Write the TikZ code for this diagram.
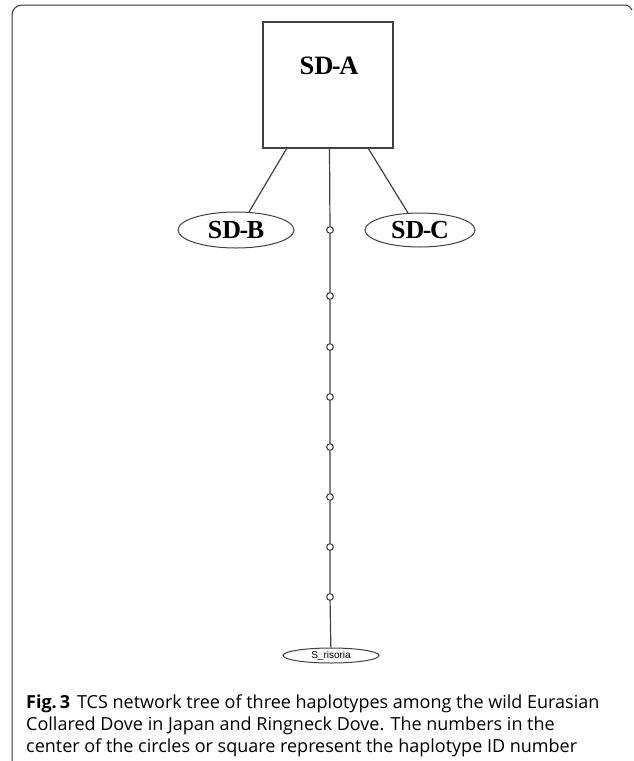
\documentclass[tikz,border=0pt]{standalone}
\usepackage{fontspec}
\setmainfont{Liberation Serif}
\newfontfamily\capfont{Open Sans}
\newfontfamily\smallsans{Liberation Sans}
\usetikzlibrary{shapes.geometric}
\newcommand{\hy}{\kern-1.5pt-\kern-1.5pt}
\begin{document}
\begin{tikzpicture}[x=1pt,y=-1pt,
  edge/.style={draw=black!75, line width=1.2pt},
  hap/.style={draw=black!75, line width=1pt, ellipse, inner sep=0pt, font=\fontsize{26}{26}\selectfont\bfseries},
  mid/.style={circle, draw=black!75, fill=white, line width=0.9pt, minimum size=6.5pt, inner sep=0pt}]
\useasboundingbox (0,0) rectangle (634,761);
% frame
\draw[black!80, line width=1pt] (12,761) -- (12,15) arc[start angle=180, end angle=270, radius=10] -- (626,5) to[out=0,in=120] (632,10);
% nodes
\node[draw=black!75, line width=1.2pt, minimum width=130pt, minimum height=126pt, inner sep=0pt] (A) at (328,85) {};
\node[font=\fontsize{26.5}{26}\selectfont\bfseries] (Alab) at (329,66) {SD\hy A};
\node[hap, minimum width=116pt, minimum height=36pt] (B) at (236,230) {SD\hy B};
\node[hap, minimum width=110pt, minimum height=34pt] (C) at (420,230) {SD\hy C};
\node[hap, minimum width=96pt, minimum height=15pt, font=\fontsize{10}{10}\smallsans] (S) at (331,655.5) {S\_risoria};
\coordinate (a1) at (287,148);
\coordinate (a2) at (329.5,148);
\coordinate (a3) at (368,148);
\coordinate (b1) at (249,212);
\coordinate (c1) at (408,213);
\draw[edge] (a1) -- (b1);
\draw[edge] (a3) -- (c1);
\node[mid] (m1) at (330,230) {};
\node[mid] (m2) at (330,296) {};
\node[mid] (m3) at (330,347) {};
\node[mid] (m4) at (330,397) {};
\node[mid] (m5) at (330,447) {};
\node[mid] (m6) at (330,497) {};
\node[mid] (m7) at (330,547) {};
\node[mid] (m8) at (330,597) {};
\draw[edge] (a2) -- (m1) -- (m2) -- (m3) -- (m4) -- (m5) -- (m6) -- (m7) -- (m8) -- (S);
\foreach \n in {m1,m2,m3,m4,m5,m6,m7,m8} \node[mid] at (\n) {};
% caption
\node[anchor=north west, align=left, inner sep=0pt, font=\fontsize{18}{22}\capfont] (cap) at (26,695)
  {{\bfseries Fig.\,3}\hspace{7pt}TCS network tree of three haplotypes among the wild Eurasian\\
   Collared Dove in Japan and Ringneck Dove. The numbers in the\\
   center of the circles or square represent the haplotype ID number};
\end{tikzpicture}
\end{document}
